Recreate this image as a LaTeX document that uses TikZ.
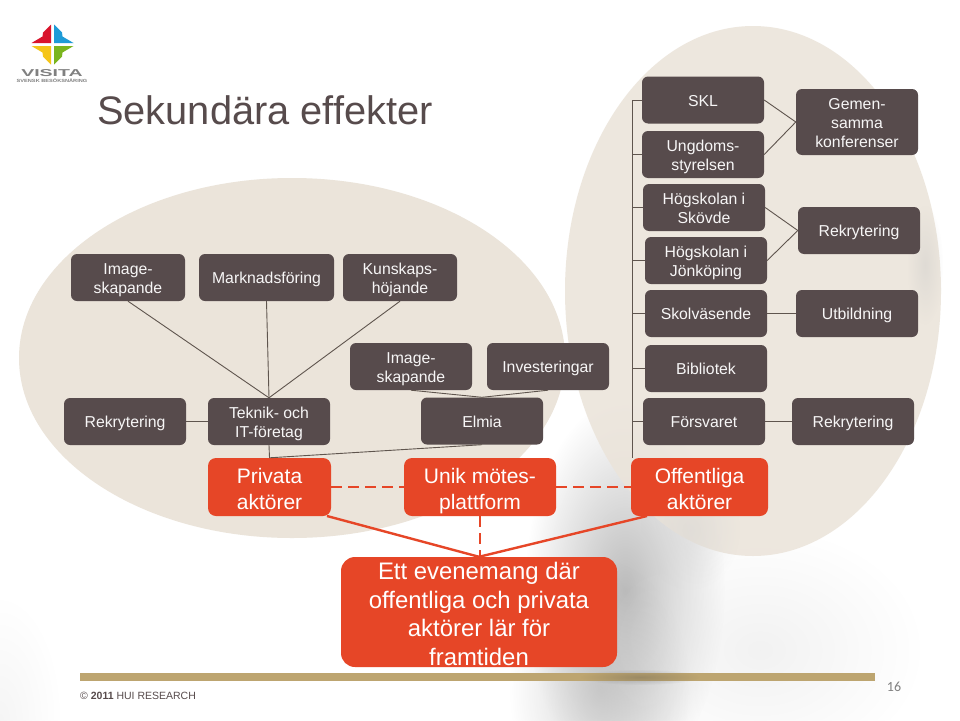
\documentclass[tikz,border=0pt]{standalone}
\usepackage{fontspec}
\setmainfont{Liberation Sans}
\newfontfamily\pagefont{Carlito}
\usetikzlibrary{fadings}
\definecolor{boxbrown}{HTML}{574B4C}
\definecolor{boxred}{HTML}{E64627}
\definecolor{ovalbeige}{HTML}{EBE4DA}
\definecolor{barsand}{HTML}{BDA570}
\definecolor{linebrown}{HTML}{5F554E}
\definecolor{logored}{HTML}{D9142C}
\definecolor{logoblue}{HTML}{1E9BD7}
\definecolor{logoyellow}{HTML}{F5C518}
\definecolor{logogreen}{HTML}{7AB51D}
\tikzfading[name=softblob,inner color=transparent!0,outer color=transparent!100]
\newcommand{\darktop}{\rule[-4pt]{0pt}{21pt}}
\newcommand{\redtop}{\rule[-5pt]{0pt}{28.5pt}}
\newcommand{\eventtop}{\rule[-6pt]{0pt}{32.8pt}}
\tikzset{
  boxstrut/.style 2 args={execute at begin node={\rule[-#2]{0pt}{#1}},execute at end node={\rule[-#2]{0pt}{#2}}},
  darkbox/.style={fill=boxbrown,text=white!95!boxbrown,rounded corners=6pt,minimum width=122,minimum height=47,inner sep=0pt,align=center,font=\fontsize{15.8}{19}\selectfont,boxstrut={20pt}{4pt}},
  redbox/.style={fill=boxred,text=white,rounded corners=8pt,minimum height=58,inner sep=0pt,align=center,font=\fontsize{21}{25.5}\selectfont,boxstrut={28.5pt}{5pt}},
  eventbox/.style={fill=boxred,rounded corners=14pt,minimum width=276,minimum height=110,inner sep=0pt},
  eventtext/.style={text=white,inner sep=0pt,align=center,font=\fontsize{23.9}{28.6}\selectfont,boxstrut={32.8pt}{6pt}},
  link/.style={draw=linebrown,line width=0.9pt},
  redlink/.style={draw=boxred,line width=2.4pt},
  reddash/.style={draw=boxred,line width=2.6pt,dash pattern=on 11pt off 6pt},
  smudge/.style={path fading=softblob,fill=#1}
}
\begin{document}
\begin{tikzpicture}[x=1pt,y=-1pt]
\useasboundingbox (0,0) rectangle (960,720);
\fill[white] (0,0) rectangle (960,720);
\fill[smudge=gray!70,opacity=0.75] (625,590) ellipse [x radius=100, y radius=190];
\fill[smudge=gray!60,opacity=0.55] (600,690) ellipse [x radius=90, y radius=130];
\fill[smudge=gray!20,opacity=0.5] (760,650) ellipse [x radius=160, y radius=120];
\fill[smudge=gray!15,opacity=0.5] (0,720) ellipse [x radius=60, y radius=120];
\fill[ovalbeige] (292,358) ellipse [x radius=273, y radius=180];
\fill[ovalbeige,opacity=0.88] (753,291) ellipse [x radius=188, y radius=265];
\fill[smudge=gray!50,opacity=0.3] (925,265) ellipse [x radius=18, y radius=60];
\fill[smudge=gray!35,opacity=0.4] (690,530) ellipse [x radius=50, y radius=60];

\foreach \armcolor/\sx/\sy in {logored/-1/-1,logoblue/1/-1,logoyellow/-1/1,logogreen/1/1}
  \fill[\armcolor,shift={(52.5,44.5)},xscale=\sx,yscale=\sy] (1.5,1.5) -- (1.5,20) -- (9.5,12) -- (10,8) -- (21,1.5) -- cycle;
\node[text=gray,font=\bfseries\fontsize{10}{10}\selectfont,transform shape,xscale=1.95,inner sep=0pt] (visita) at (52,73.5) {VISITA};
\node[text=gray,font=\bfseries\fontsize{4.5}{5}\selectfont,transform shape,xscale=1.25,inner sep=0pt] (besok) at (52,80.5) {SVENSK BESÖKSNÄRING};

\node[text=boxbrown,font=\fontsize{39.8}{44}\selectfont,anchor=west,inner sep=0pt] (title) at (97,110) {Sekundära effekter};

\node[darkbox,minimum width=114] (image1) at (128,277.5) {\darktop Image-\\skapande};
\node[darkbox,minimum width=135] (market) at (266.5,277.5) {Marknadsföring};
\node[darkbox,minimum width=114] (kunskap) at (400,277.5) {\darktop Kunskaps-\\höjande};
\node[darkbox] (image2) at (411,366.5) {\darktop Image-\\skapande};
\node[darkbox] (invest) at (548,366.5) {Investeringar};
\node[darkbox] (rekleft) at (125,421.5) {Rekrytering};
\node[darkbox] (teknik) at (269,421.5) {\darktop Teknik- och\\IT-företag};
\node[darkbox] (elmia) at (482,421) {Elmia};

\node[darkbox] (skl) at (703,100) {SKL};
\node[darkbox] (ungdom) at (703,154.5) {\darktop Ungdoms-\\styrelsen};
\node[darkbox] (skovde) at (704,207.5) {\darktop Högskolan i\\Skövde};
\node[darkbox] (jonkop) at (706,260.5) {\darktop Högskolan i\\Jönköping};
\node[darkbox] (skola) at (706,313.5) {Skolväsende};
\node[darkbox] (biblio) at (706,368.5) {Bibliotek};
\node[darkbox] (forsvar) at (704,421.5) {Försvaret};
\node[darkbox,minimum height=66] (gemen) at (857,122) {\darktop Gemen-\\samma\\konferenser};
\node[darkbox] (rekupp) at (859,230.5) {Rekrytering};
\node[darkbox] (utbild) at (857,313.5) {Utbildning};
\node[darkbox] (rekright) at (853,421.5) {Rekrytering};

\node[redbox,minimum width=123] (privata) at (269.5,487) {\redtop Privata\\aktörer};
\node[redbox,minimum width=152] (unik) at (480,487) {\redtop Unik mötes-\\plattform};
\node[redbox,minimum width=137] (offentlig) at (699.5,487) {\redtop Offentliga\\aktörer};
\node[eventbox] (event) at (479,612) {};
\node[eventtext] (eventlabel) at (event.center) {\eventtop Ett evenemang där\\offentliga och privata\\aktörer lär för\\framtiden};

\coordinate (trunktop) at (632,100);
\coordinate (trunkend) at (632,458);
\coordinate (privfoot) at (327,516);
\coordinate (offfoot) at (647,516);
\draw[link] (trunktop) -- (trunkend);
\foreach \branch in {skl,ungdom,skovde,jonkop,skola,biblio,forsvar}
  \draw[link] (trunktop |- \branch.west) -- (\branch.west);
\draw[link] (skl.east) -- (gemen.west);
\draw[link] (ungdom.east) -- (gemen.west);
\draw[link] (skovde.east) -- (rekupp.west);
\draw[link] (jonkop.east) -- (rekupp.west);
\draw[link] (skola.east) -- (utbild.west);
\draw[link] (forsvar.east) -- (rekright.west);
\draw[link] (image1.south) -- (teknik.north);
\draw[link] (market.south) -- (teknik.north);
\draw[link] (kunskap.south) -- (teknik.north);
\draw[link] (rekleft.east) -- (teknik.west |- rekleft.east);
\draw[link] (image2.south) -- (elmia.north);
\draw[link] (invest.south) -- (elmia.north);
\draw[link] (teknik.south) -- (privata.north);
\draw[link] (elmia.south) -- (privata.north);

\draw[reddash] (privata.east) -- (unik.west);
\draw[reddash] (unik.east) -- (offentlig.west);
\draw[reddash] (unik.south) -- (unik.south |- event.north);
\draw[redlink] (privfoot) -- (event.north);
\draw[redlink] (offfoot) -- (event.north);

\fill[barsand] (80,673) rectangle (875,681);
\fill[smudge=black!70,opacity=0.3] (640,677) ellipse [x radius=60, y radius=8];
\node[text=boxbrown,font=\fontsize{10.5}{12}\selectfont,anchor=west,inner sep=0pt] (copyr) at (80,696) {© \textbf{2011} HUI RESEARCH};
\node[text=gray,font=\pagefont\fontsize{14}{14}\selectfont,inner sep=0pt] (pagenum) at (894,687) {16};
\end{tikzpicture}
\end{document}
